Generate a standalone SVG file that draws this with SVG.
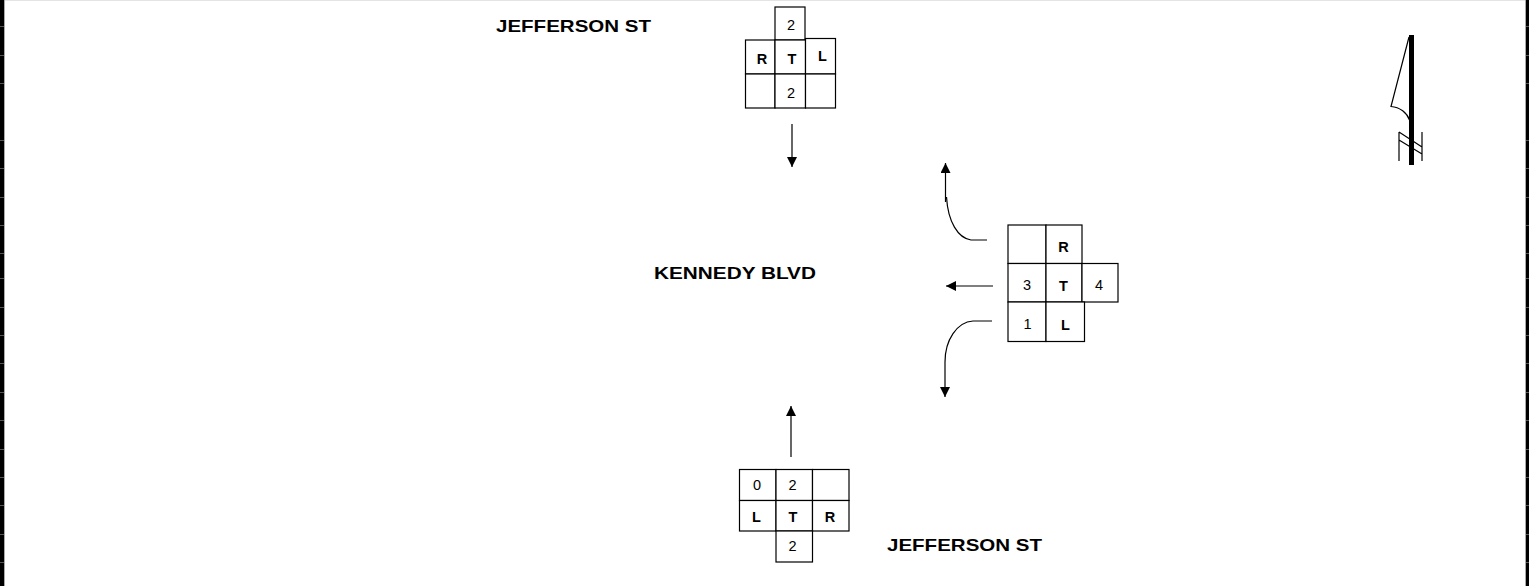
<svg xmlns="http://www.w3.org/2000/svg" width="1529" height="586" viewBox="0 0 1529 586">
<style>
text{font-family:"Liberation Sans",Arial,sans-serif;fill:#000}
.c{fill:#fff;stroke:#000;stroke-width:1.2}
.n{font-size:14.5px;text-anchor:middle}
.b{font-size:14.5px;font-weight:bold;text-anchor:middle}
.s{font-size:16.500px;font-weight:bold}
.l{fill:none;stroke:#000;stroke-width:1.2}
.t{stroke:#555;stroke-width:1}
</style>
<defs>
<marker id="a" markerUnits="userSpaceOnUse" markerWidth="11" markerHeight="11" refX="10" refY="5" orient="auto"><path d="M0 0L10 5L0 10Z" fill="#000"/></marker>
</defs>
<rect width="1529" height="586" fill="#fff"/>
<g id="frame">
<rect x="5" y="0" width="1521" height="1" fill="#e4e4e4"/>
<rect x="0" y="0" width="4" height="586" fill="#000"/>
<rect x="1526" y="0" width="3" height="586" fill="#000"/>
<rect x="4" y="0" width="1" height="586" fill="#aaa"/>
<rect x="1525" y="0" width="1" height="586" fill="#aaa"/>
<path class="t" d="M0 26.500h4M0 55.500h4M0 83.500h4M0 140.500h4M0 168.500h4M0 197.500h4M0 225.500h4M0 253.500h4M0 278.500h4M0 307.500h4M0 335.500h4M0 363.500h4M0 392.500h4M0 420.500h4M0 449.500h4M0 477.500h4M0 505.500h4M0 534.500h4M0 562.500h4M1526 26.500h3M1526 55.500h3M1526 83.500h3M1526 140.500h3M1526 168.500h3M1526 197.500h3M1526 225.500h3M1526 253.500h3M1526 278.500h3M1526 307.500h3M1526 335.500h3M1526 363.500h3M1526 392.500h3M1526 420.500h3M1526 449.500h3M1526 477.500h3M1526 505.500h3M1526 534.500h3M1526 562.500h3"/>
</g>
<g id="label-jefferson-north"><text class="s" x="496" y="32" textLength="155" lengthAdjust="spacingAndGlyphs">JEFFERSON ST</text></g>
<g id="label-kennedy"><text class="s" x="654" y="279" textLength="162" lengthAdjust="spacingAndGlyphs">KENNEDY BLVD</text></g>
<g id="label-jefferson-south"><text class="s" x="887" y="550.500" textLength="155" lengthAdjust="spacingAndGlyphs">JEFFERSON ST</text></g>
<g id="node-north">
<rect class="c" x="775" y="7" width="30" height="33"/>
<rect class="c" x="745.500" y="40" width="29.500" height="34"/>
<rect class="c" x="775" y="40" width="30.500" height="34"/>
<rect class="c" x="805.500" y="38.500" width="30" height="35.500"/>
<rect class="c" x="745.500" y="74" width="29.500" height="34"/>
<rect class="c" x="775" y="74" width="30.500" height="34"/>
<rect class="c" x="805.500" y="74" width="30" height="34"/>
<text class="n" x="791" y="30">2</text>
<text class="b" x="762" y="63.500">R</text>
<text class="b" x="792" y="63.500">T</text>
<text class="b" x="822.500" y="61">L</text>
<text class="n" x="791" y="97.500">2</text>
</g>
<g id="node-east">
<rect class="c" x="1008" y="225" width="38" height="38.500"/>
<rect class="c" x="1046" y="225" width="36" height="38.500"/>
<rect class="c" x="1008" y="263.500" width="38" height="38.500"/>
<rect class="c" x="1046" y="263.500" width="36" height="38.500"/>
<rect class="c" x="1082" y="263.500" width="36" height="38.500"/>
<rect class="c" x="1008" y="302" width="38" height="39.500"/>
<rect class="c" x="1046" y="302" width="38.500" height="39.500"/>
<text class="b" x="1063.500" y="252">R</text>
<text class="n" x="1027" y="290">3</text>
<text class="b" x="1063.500" y="291">T</text>
<text class="n" x="1099" y="290">4</text>
<text class="n" x="1027.500" y="329">1</text>
<text class="b" x="1065.500" y="330">L</text>
</g>
<g id="node-south">
<rect class="c" x="739.500" y="469.500" width="36.500" height="31"/>
<rect class="c" x="776" y="469.500" width="36.500" height="31"/>
<rect class="c" x="812.500" y="469.500" width="36.500" height="31"/>
<rect class="c" x="739.500" y="500.500" width="36.500" height="30.500"/>
<rect class="c" x="776" y="500.500" width="36.500" height="30.500"/>
<rect class="c" x="812.500" y="500.500" width="36.500" height="30.500"/>
<rect class="c" x="776" y="531" width="36.500" height="31"/>
<text class="n" x="757" y="489.500">0</text>
<text class="n" x="792.500" y="489.500">2</text>
<text class="b" x="756.500" y="521.500">L</text>
<text class="b" x="793" y="521.500">T</text>
<text class="b" x="830" y="521.500">R</text>
<text class="n" x="792.500" y="551">2</text>
</g>
<g id="connectors">
<path class="l" d="M792 124V167" marker-end="url(#a)"/>
<path class="l" d="M791 457V406" marker-end="url(#a)"/>
<path class="l" d="M993 286H946" marker-end="url(#a)"/>
<path class="l" d="M987 240H971C958 238 948 222 946.500 197"/>
<path class="l" d="M945.500 202V163" marker-end="url(#a)"/>
<path class="l" d="M992 321H973C957 322 945 340 945 362V397" marker-end="url(#a)"/>
</g>
<g id="north-arrow">
<rect x="1409" y="35" width="5" height="130" fill="#000"/>
<path class="l" d="M1409 37L1391 106.500C1400 107 1407 113 1409.500 120"/>
<path class="l" d="M1399 132V161M1422 132V161M1399 132L1422 147M1399 140L1422 154"/>
</g>
</svg>
